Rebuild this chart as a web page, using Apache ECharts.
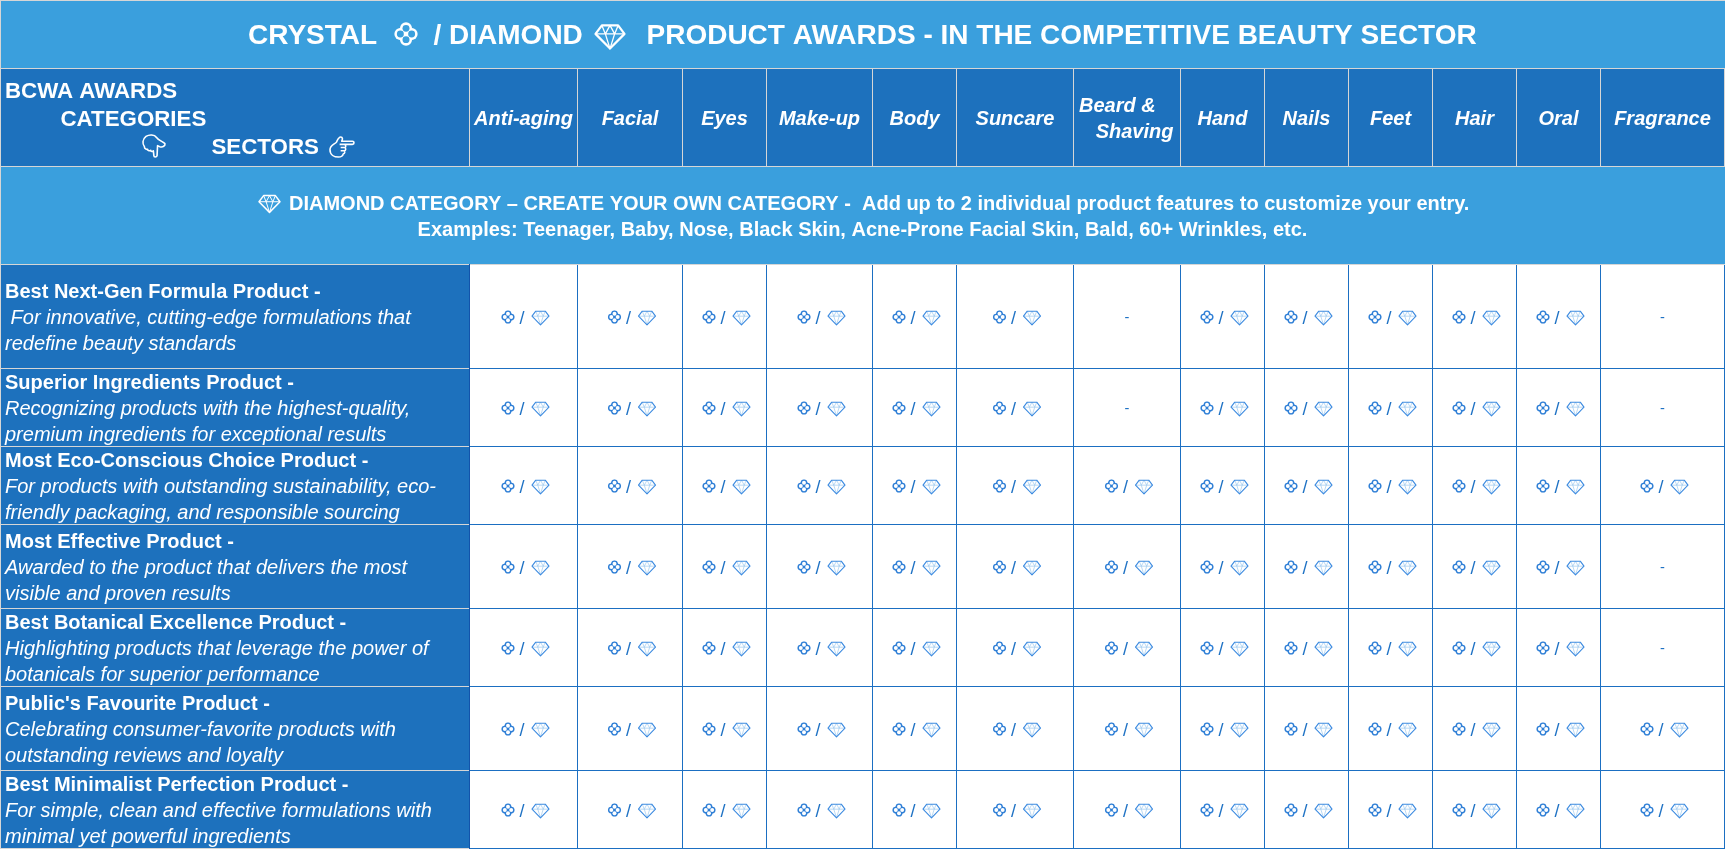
<!DOCTYPE html>
<html>
<head>
<meta charset="utf-8">
<title>BCWA awards matrix</title>
<style>
html, body { margin: 0; padding: 0; background: #fff; }
#main { width: 1725px; height: 849px; }
</style>
<script src="https://cdn.jsdelivr.net/npm/echarts@6/dist/echarts.min.js"></script>
</head>
<body>
<div id="main"></div>
<script>
// 表格内容
var sectors = ['Anti-aging', 'Facial', 'Eyes', 'Make-up', 'Body', 'Suncare', 'Beard &\n   Shaving', 'Hand', 'Nails', 'Feet', 'Hair', 'Oral', 'Fragrance'];
var awardTitles = [
    'Best Next-Gen Formula Product -',
    'Superior Ingredients Product -',
    'Most Eco-Conscious Choice Product -',
    'Most Effective Product -',
    'Best Botanical Excellence Product -',
    "Public's Favourite Product -",
    'Best Minimalist Perfection Product -'
];
var awardNotes = [
    ' For innovative, cutting-edge formulations that\nredefine beauty standards',
    'Recognizing products with the highest-quality,\npremium ingredients for exceptional results',
    'For products with outstanding sustainability, eco-\nfriendly packaging, and responsible sourcing',
    'Awarded to the product that delivers the most\nvisible and proven results',
    'Highlighting products that leverage the power of\nbotanicals for superior performance',
    'Celebrating consumer-favorite products with\noutstanding reviews and loyalty',
    'For simple, clean and effective formulations with\nminimal yet powerful ingredients'
];
// 1 = 水晶/钻石都可参评, 0 = 不适用
var nextGenFormula = [1, 1, 1, 1, 1, 1, 0, 1, 1, 1, 1, 1, 0];
var superiorIngredients = [1, 1, 1, 1, 1, 1, 0, 1, 1, 1, 1, 1, 0];
var ecoConscious = [1, 1, 1, 1, 1, 1, 1, 1, 1, 1, 1, 1, 1];
var mostEffective = [1, 1, 1, 1, 1, 1, 1, 1, 1, 1, 1, 1, 0];
var botanical = [1, 1, 1, 1, 1, 1, 1, 1, 1, 1, 1, 1, 0];
var publicFavourite = [1, 1, 1, 1, 1, 1, 1, 1, 1, 1, 1, 1, 1];
var minimalist = [1, 1, 1, 1, 1, 1, 1, 1, 1, 1, 1, 1, 1];
var availability = [nextGenFormula, superiorIngredients, ecoConscious, mostEffective, botanical, publicFavourite, minimalist];

var titleText = ['CRYSTAL', '/ DIAMOND', 'PRODUCT AWARDS - IN THE COMPETITIVE BEAUTY SECTOR'];
var bandLine1 = 'DIAMOND CATEGORY \u2013 CREATE YOUR OWN CATEGORY -  Add up to 2 individual product features to customize your entry.';
var bandLine2 = 'Examples: Teenager, Baby, Nose, Black Skin, Acne-Prone Facial Skin, Bald, 60+ Wrinkles, etc.';

// 表格线位置
var colEdges = [0, 469, 577, 682, 766, 872, 956, 1073, 1180, 1264, 1348, 1432, 1516, 1600, 1724];
var rowEdges = [264, 368, 446, 524, 608, 686, 770, 848];
var headTop = 68, headBottom = 166;

var lightBlue = '#3a9fdd';
var darkBlue = '#1d71bd';
var lineGrey = '#d6d6d6';
var cellLine = '#1b6fc2';
var FONT = '"Liberation Sans", Arial, sans-serif';

var gemOutline = 'M22 0L78 0L100 30L50 82L0 30Z';
var gemFacets = 'M0 30L100 30M22 0L34 30L50 82L66 30L78 0M34 30L50 0L66 30';
var handDown = 'M4 2C7 0 12 0 14 3C16 6 20 7 22 9C22.5 11 20 13 17 12L15 11L14.5 21C14 22.5 11.5 22.5 11.5 21L11 16C10.5 17 8.5 17 8.5 15.5C8 16.5 5.5 16 5.5 14.5C4.5 15 2.5 14 2.5 12C0.5 9 0.5 5 4 2Z';
var handRight = 'M1 13C1 9 5 8 7 6C8 4 9 1 11 1C13 1 13 3 12 5L22 5C24 5 24 8 22 8L15 8C16 9 16 11 15 11C16 12 16 14 14.5 14C15 15 15 17 13.5 17C13 19 11 20 9 20C5 20 1 18 1 13ZM10 8L15 8M11 11L15 11M11 14L14.5 14';

function text(x, y, str, font, color, align) {
    return {
        type: 'text',
        x: x,
        y: y,
        silent: true,
        style: {
            text: str,
            font: font,
            fill: color || '#fff',
            align: align || 'left',
            verticalAlign: 'middle',
            lineHeight: 26
        }
    };
}

function box(x0, y0, x1, y1, color) {
    return { type: 'rect', shape: { x: x0, y: y0, width: x1 - x0, height: y1 - y0 }, style: { fill: color }, silent: true };
}

function outline(path, x, y, w, h, color, lw) {
    return {
        type: 'path',
        silent: true,
        shape: { pathData: path, x: x, y: y, width: w, height: h, layout: 'cover' },
        style: { fill: 'none', stroke: color, lineWidth: lw, lineJoin: 'round' }
    };
}

// 水晶图标: 圆角菱形里挖四个圆
function crystalIcon(cx, cy, size, color, hole) {
    var s = size / 2;
    var c = s * 0.47, r = s * 0.29, lobe = s * 0.5;
    var side = size * 0.7;
    var spots = [[c, 0], [-c, 0], [0, c], [0, -c]];
    var items = [{
        type: 'rect',
        x: cx, y: cy, rotation: Math.PI / 4,
        shape: { x: -side / 2, y: -side / 2, width: side, height: side, r: size * 0.1 },
        style: { fill: color }
    }];
    spots.forEach(function (p) {
        items.push({ type: 'circle', shape: { cx: cx + p[0], cy: cy + p[1], r: lobe }, style: { fill: color } });
    });
    spots.forEach(function (p) {
        items.push({ type: 'circle', shape: { cx: cx + p[0], cy: cy + p[1], r: r }, style: { fill: hole } });
    });
    return { type: 'group', silent: true, children: items };
}

// 钻石图标
function gemIcon(cx, cy, w, color, facetColor, lw, facetLw) {
    var h = w * 0.8;
    return {
        type: 'group',
        silent: true,
        children: [
            outline(gemFacets, cx - w / 2, cy - h / 2, w, h, facetColor, facetLw),
            outline(gemOutline, cx - w / 2, cy - h / 2, w, h, color, lw)
        ]
    };
}

function renderFrame(params, api) {
    var full = api.coord([1725, 849]);
    var head0 = api.coord([0, headTop])[1];
    var head1 = api.coord([0, headBottom])[1];
    var body0 = api.coord([0, rowEdges[0]])[1];
    var leftW = api.coord([colEdges[1], 0])[0];
    var bold28 = 'bold 28px ' + FONT;
    var bold22 = 'bold 22.3px ' + FONT;
    var bold20 = 'bold 20px ' + FONT;
    var kids = [
        box(0, 0, full[0], body0, lightBlue),
        box(0, head0, full[0], head1, darkBlue),
        box(0, 0, full[0], 1, lineGrey),
        box(0, head0, full[0], head0 + 1, lineGrey),
        box(0, head1, full[0], head1 + 1, lineGrey),
        box(0, body0, full[0], body0 + 1, lineGrey),
        box(0, 0, 1, full[1], lineGrey),
        text(248, 36, titleText[0], bold28),
        crystalIcon(406, 34, 24, '#fff', lightBlue),
        text(433.5, 36, titleText[1], bold28),
        gemIcon(610, 37, 29, '#fff', '#fff', 2.2, 1.3),
        text(646.5, 36, titleText[2], bold28),
        text(5, 92, 'BCWA AWARDS', bold22),
        text(60.5, 120, 'CATEGORIES', bold22),
        outline(handDown, 143, 135, 22, 22, '#fff', 1.6),
        text(211.5, 148, 'SECTORS', bold22),
        outline(handRight, 330, 137, 24, 20, '#fff', 1.6),
        gemIcon(269.5, 204, 21, '#fff', '#fff', 1.5, 1),
        text(289, 204, bandLine1, bold20),
        text(862.5, 230, bandLine2, bold20, '#fff', 'center')
    ];
    for (var i = 1; i < colEdges.length; i++) {
        var x = api.coord([colEdges[i], 0])[0];
        kids.push(box(x, head0, x + 1, head1, lineGrey));
    }
    kids.push(box(leftW, body0, leftW + 1, full[1], '#1254ab'));
    return { type: 'group', children: kids };
}

function renderSector(params, api) {
    var c = api.value(0);
    var p0 = api.coord([colEdges[c], headTop]);
    var p1 = api.coord([colEdges[c + 1], headBottom]);
    var label = sectors[c - 1];
    var font = 'italic bold 20px ' + FONT;
    var midY = (p0[1] + p1[1]) / 2 + 2;
    // 两行的表头靠左, 第二行用空格缩进
    if (label.indexOf('\n') >= 0) {
        return text(p0[0] + 6, midY, label, font);
    }
    return text((p0[0] + p1[0]) / 2 + 0.5, midY, label, font, '#fff', 'center');
}

function renderAward(params, api) {
    var r = api.value(0);
    var p0 = api.coord([0, rowEdges[r]]);
    var p1 = api.coord([colEdges[1], rowEdges[r + 1]]);
    var mid = (p0[1] + p1[1]) / 2;
    return {
        type: 'group',
        children: [
            box(1, p0[1] + 1, p1[0], p1[1], darkBlue),
            box(0, p1[1], p1[0], p1[1] + 1, lineGrey),
            text(5, mid - 24, awardTitles[r], 'bold 20px ' + FONT),
            text(5, mid + 15, awardNotes[r], 'italic 20px ' + FONT)
        ]
    };
}

function renderCell(params, api) {
    var c = api.value(0), r = api.value(1);
    var p0 = api.coord([colEdges[c], rowEdges[r]]);
    var p1 = api.coord([colEdges[c + 1], rowEdges[r + 1]]);
    var cx = (p0[0] + p1[0]) / 2 + 0.5;
    var cy = (p0[1] + p1[1]) / 2 + 0.5;
    var kids = [
        box(p1[0], p0[1] + 1, p1[0] + 1, p1[1] + 1, cellLine),
        box(p0[0] + 1, p1[1], p1[0] + 1, p1[1] + 1, cellLine)
    ];
    if (api.value(2) === 1) {
        kids.push(crystalIcon(cx - 15.5, cy + 0.5, 13.5, '#2f7fd6', '#fff'));
        kids.push(text(cx - 1.5, cy + 2.5, '/', '18px ' + FONT, '#1f72c4', 'center'));
        kids.push(gemIcon(cx + 17, cy + 1.5, 17, '#3d8be0', '#9cc9ef', 1.1, 0.7));
    } else {
        kids.push(text(cx, cy + 1, '-', '14.67px ' + FONT, '#1f72c4', 'center'));
    }
    return { type: 'group', children: kids };
}

var myChart = echarts.init(document.getElementById('main'), null, { renderer: 'canvas' });

var sectorData = sectors.map(function (s, i) { return [i + 1]; });
var awardData = awardTitles.map(function (s, i) { return [i]; });
var cellData = [];
availability.forEach(function (row, r) {
    row.forEach(function (v, c) {
        cellData.push([c + 1, r, v]);
    });
});

var option = {
    animation: false,
    backgroundColor: '#fff',
    grid: { left: 0, right: 0, top: 0, bottom: 0 },
    xAxis: { type: 'value', min: 0, max: 1725, show: false },
    yAxis: { type: 'value', min: 0, max: 849, inverse: true, show: false },
    tooltip: { show: false },
    series: [
        { name: 'frame', type: 'custom', data: [[0]], renderItem: renderFrame, clip: false, silent: true, z: 1 },
        { name: 'sectors', type: 'custom', data: sectorData, renderItem: renderSector, clip: false, silent: true, z: 2 },
        { name: 'awards', type: 'custom', data: awardData, renderItem: renderAward, clip: false, silent: true, z: 2 },
        { name: 'cells', type: 'custom', data: cellData, renderItem: renderCell, clip: false, silent: true, z: 2 }
    ]
};

myChart.setOption(option);
</script>
</body>
</html>
